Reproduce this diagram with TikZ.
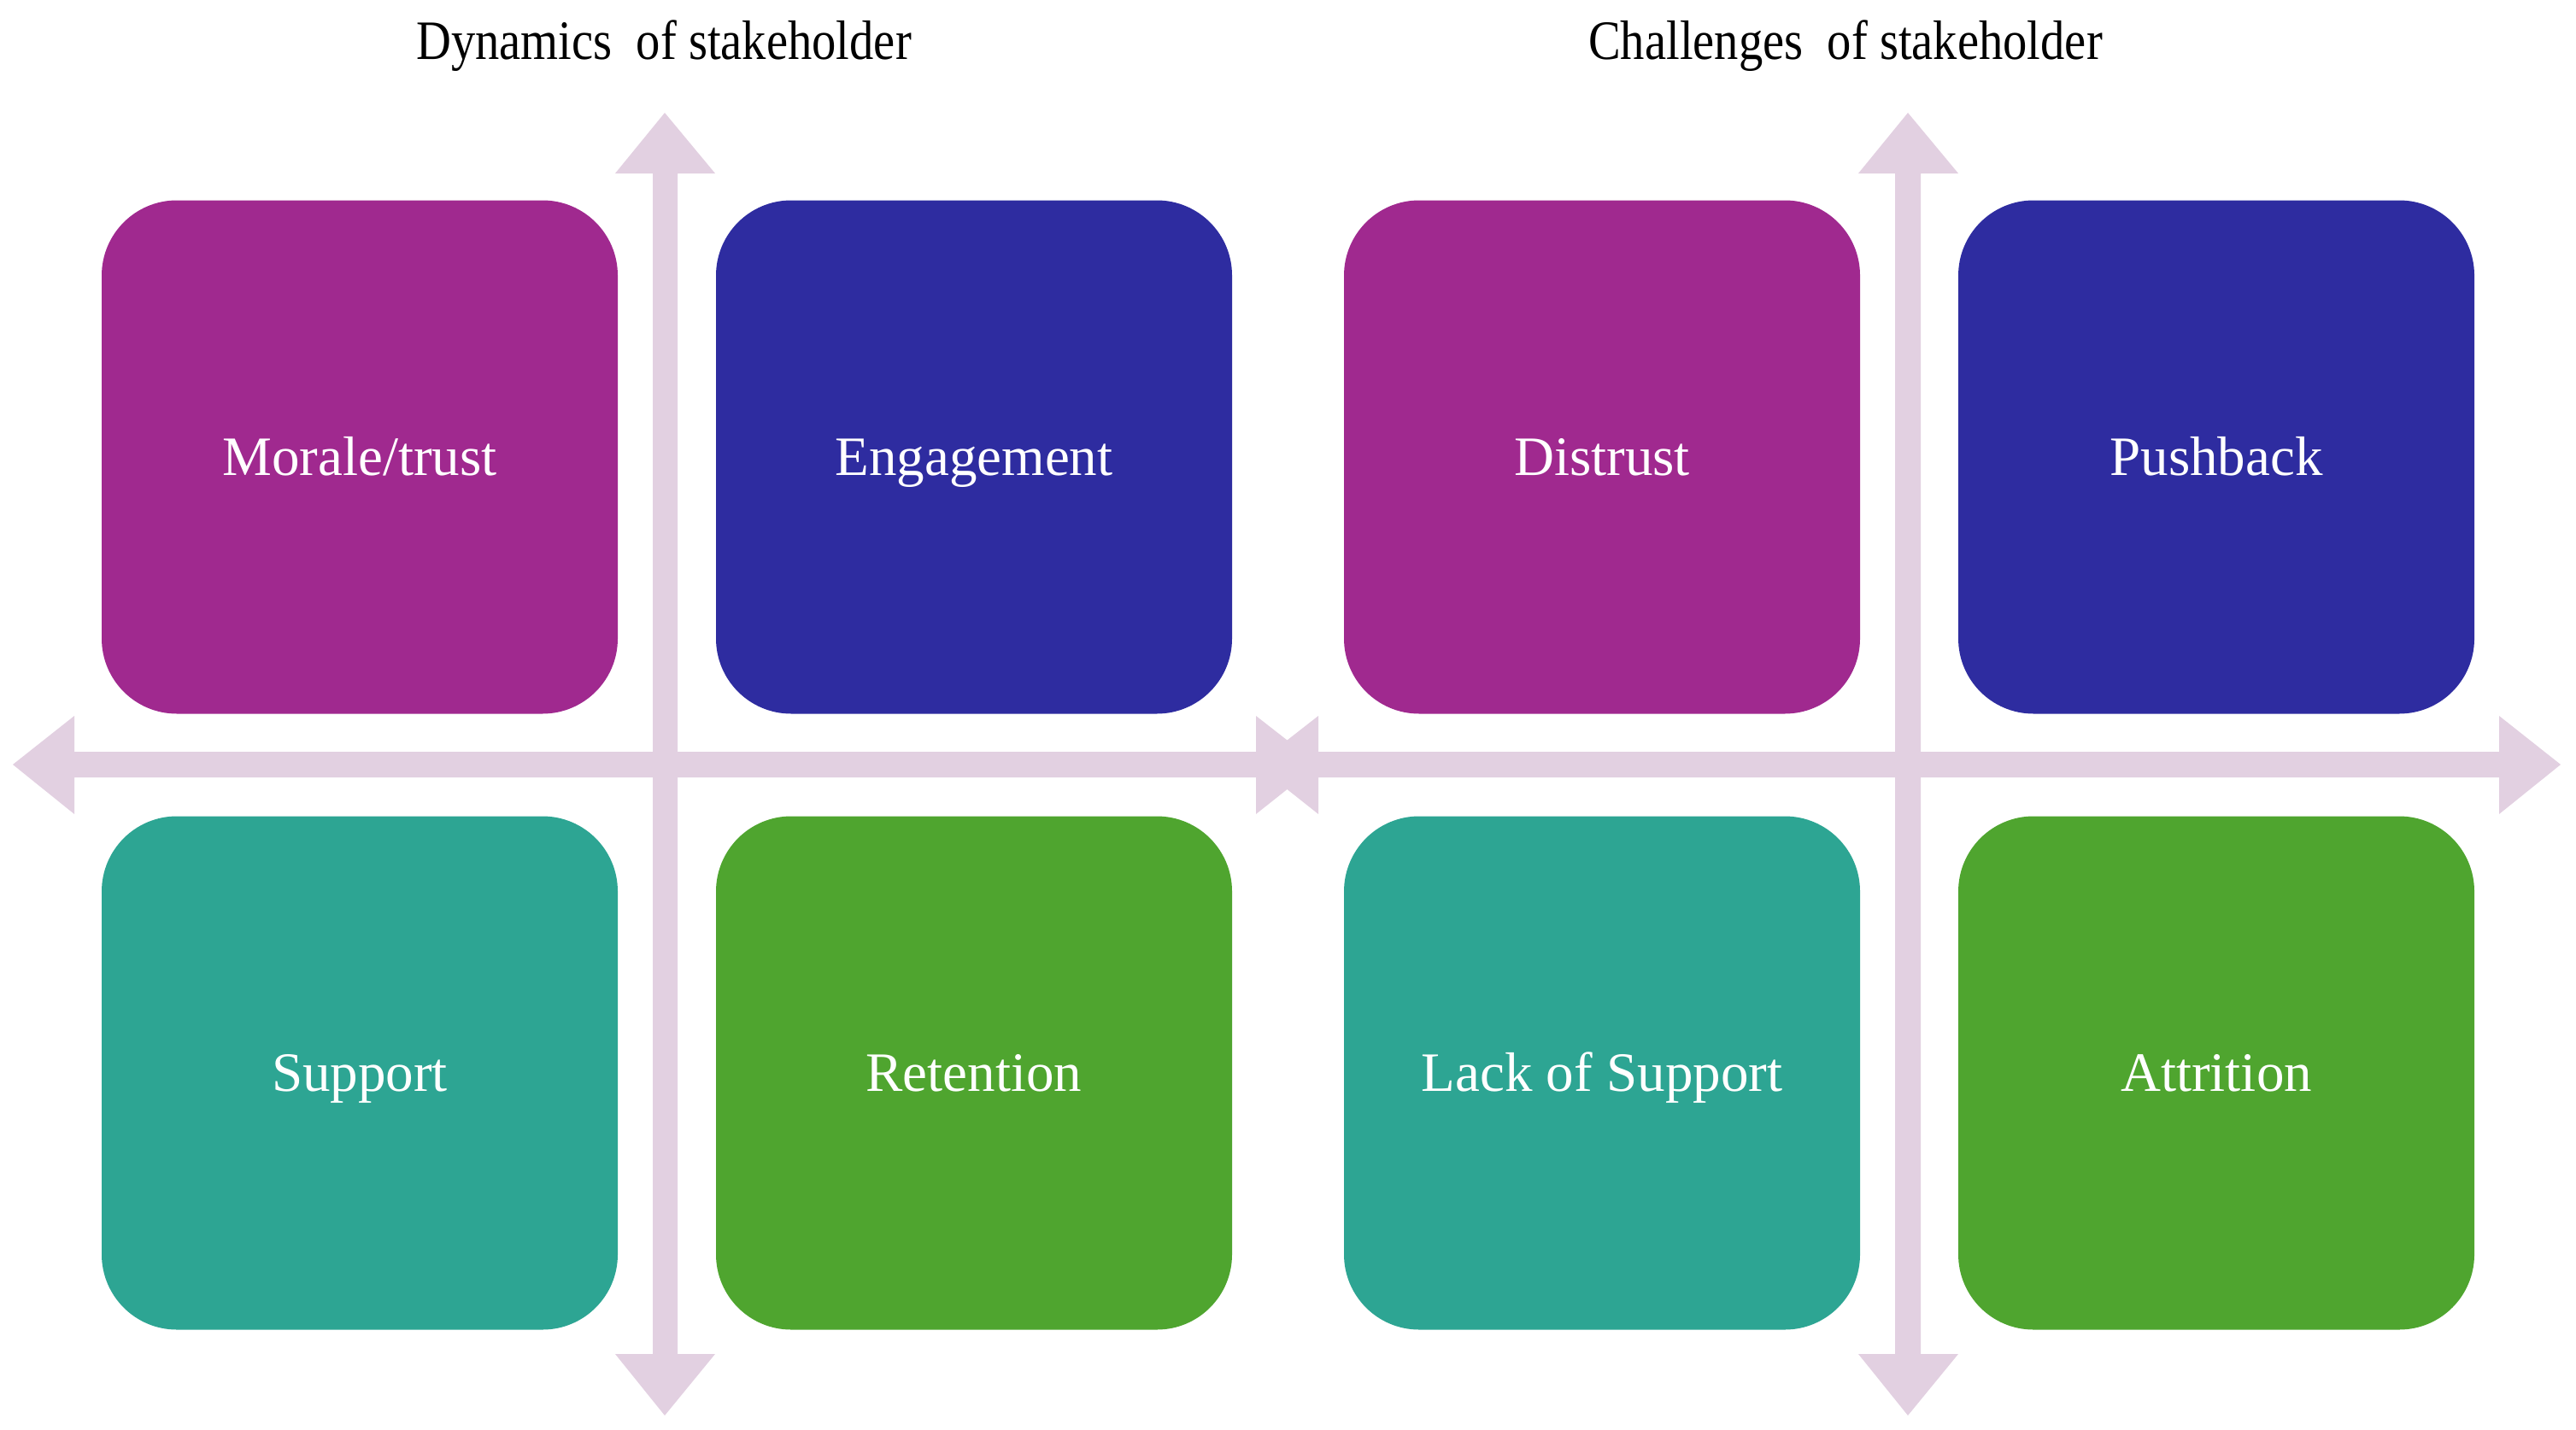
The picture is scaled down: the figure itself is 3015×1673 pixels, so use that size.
\documentclass[tikz,border=0pt]{standalone}
\usepackage{fontspec}
\setmainfont{Liberation Serif}
\newfontfamily\narrowserif[FakeStretch=0.87]{Liberation Serif}
\definecolor{cmag}{HTML}{A0298F}
\definecolor{cnavy}{HTML}{2E2CA0}
\definecolor{cteal}{HTML}{2DA593}
\definecolor{cgreen}{HTML}{4FA52F}
\definecolor{carrow}{HTML}{E2D0E1}
\begin{document}
\begin{tikzpicture}[x=0.1mm,y=-0.1mm,
  quad/.style={rounded corners=8.8mm, minimum width=60.4mm, minimum height=60.1mm,
    inner sep=0pt, text=white, text height=12.3pt, text depth=0pt,
    font=\fontsize{18.5pt}{22pt}\selectfont},
  ttl/.style={font=\narrowserif\fontsize{18.5pt}{22pt}\selectfont, text=black, inner sep=0pt,
    text height=12.3pt, text depth=0pt}]
\useasboundingbox (0,0) rectangle (3015,1673);
% left diagram arrows
\fill[carrow] (15,895) -- (87,838) -- (87,880) -- (1470,880) -- (1470,838) -- (1543,895)
  -- (1470,953) -- (1470,910) -- (87,910) -- (87,953) -- cycle;
\fill[carrow] (778,132) -- (837,203) -- (793,203) -- (793,1585) -- (837,1585) -- (778,1657)
  -- (720,1585) -- (764,1585) -- (764,203) -- (720,203) -- cycle;
% right diagram arrows
\fill[carrow] (1470,895) -- (1543,838) -- (1543,880) -- (2925,880) -- (2925,838) -- (2997,895)
  -- (2925,953) -- (2925,910) -- (1543,910) -- (1543,953) -- cycle;
\fill[carrow] (2233,132) -- (2292,203) -- (2248,203) -- (2248,1585) -- (2292,1585) -- (2233,1657)
  -- (2175,1585) -- (2218,1585) -- (2218,203) -- (2175,203) -- cycle;
% titles
\node[ttl] (t1) at (777,48) {Dynamics\ \ of stakeholder};
\node[ttl] (t2) at (2160,48) {Challenges\ \ of stakeholder};
% boxes
\node[quad, fill=cmag] (b1) at (421,535) {Morale/trust};
\node[quad, fill=cnavy] (b2) at (1140,535) {Engagement};
\node[quad, fill=cteal] (b3) at (421,1256) {Support};
\node[quad, fill=cgreen] (b4) at (1140,1256) {Retention};
\node[quad, fill=cmag] (b5) at (1875,535) {Distrust};
\node[quad, fill=cnavy] (b6) at (2594,535) {Pushback};
\node[quad, fill=cteal] (b7) at (1875,1256) {Lack of Support};
\node[quad, fill=cgreen] (b8) at (2594,1256) {Attrition};
\end{tikzpicture}
\end{document}
